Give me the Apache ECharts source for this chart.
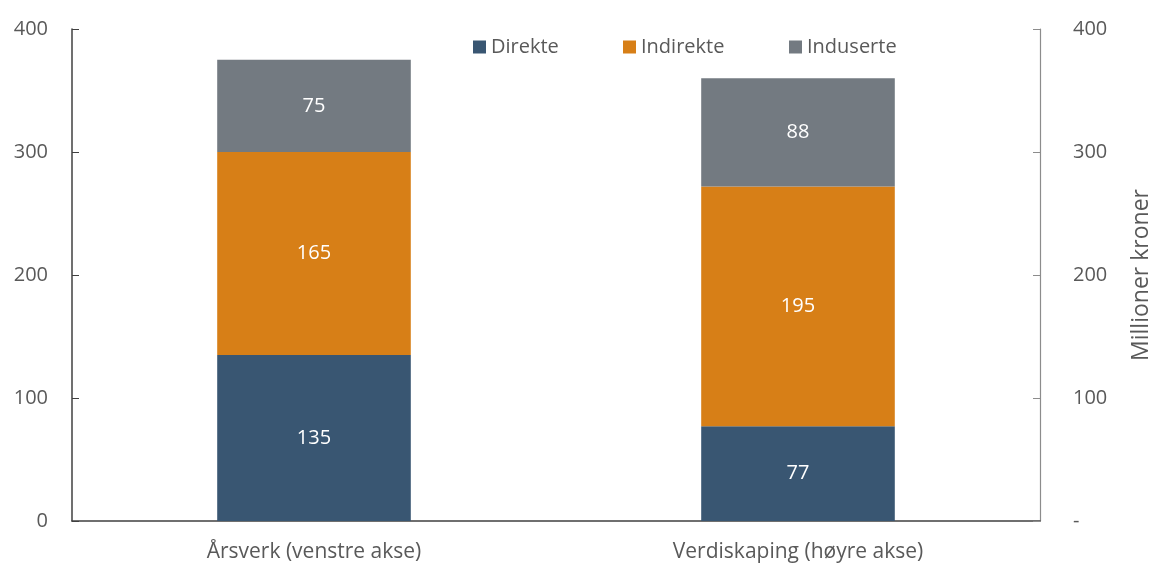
<!DOCTYPE html>
<html>
<head>
<meta charset="utf-8">
<script src="https://cdn.jsdelivr.net/npm/echarts@6/dist/echarts.min.js"></script>
<style>
  html, body { margin: 0; padding: 0; background: #fff; }
  #main { width: 1153px; height: 563px; }
</style>
</head>
<body>
<div id="main"></div>
<script>
var categories = ['Årsverk (venstre akse)', 'Verdiskaping (høyre akse)'];
var direkte = [135, 77];
var indirekte = [165, 195];
var induserte = [75, 88];

var FONT = '"Open Sans", sans-serif';
var TEXT = '#595959';

var chart = echarts.init(document.getElementById('main'));

function legendAt(name, left) {
    return {
        data: [name], left: left, top: 37, padding: 0,
        itemWidth: 13, itemHeight: 13, itemGap: 6,
        icon: 'rect',
        textStyle: { fontFamily: FONT, fontSize: 20, color: TEXT }
    };
}

var labelStyle = {
    show: true, position: 'inside', color: '#fff',
    fontFamily: FONT, fontSize: 20
};

var option = {
    animation: false,
    color: ['#395672', '#d77f17', '#737a81'],
    grid: { left: 72, right: 113, top: 29, bottom: 42, outerBoundsMode: 'none' },
    legend: [
        legendAt('Direkte', 473),
        legendAt('Indirekte', 623),
        legendAt('Induserte', 789)
    ],
    xAxis: {
        type: 'category',
        data: categories,
        axisLine: { lineStyle: { color: '#404040', width: 1.5 } },
        axisTick: { show: false },
        axisLabel: { fontFamily: FONT, fontSize: 21, color: TEXT, margin: 21 }
    },
    yAxis: [
        {
            type: 'value', min: 0, max: 400, interval: 100,
            position: 'left',
            splitLine: { show: false },
            axisLine: { show: true, lineStyle: { color: '#404040', width: 1.5 } },
            axisTick: { show: true, inside: true, length: 7, lineStyle: { color: '#404040' } },
            axisLabel: { fontFamily: FONT, fontSize: 20, color: TEXT, margin: 24 }
        },
        {
            type: 'value', min: 0, max: 400, interval: 100,
            position: 'right',
            name: 'Millioner kroner',
            nameLocation: 'middle',
            nameRotate: 90,
            nameGap: 90,
            nameTextStyle: { fontFamily: FONT, fontSize: 23, color: TEXT },
            splitLine: { show: false },
            axisLine: { show: true, lineStyle: { color: '#8c8c8c', width: 1.2 } },
            axisTick: { show: true, inside: true, length: 7, lineStyle: { color: '#8c8c8c' } },
            axisLabel: {
                fontFamily: FONT, fontSize: 20, color: TEXT, margin: 33,
                formatter: function (v) { return v === 0 ? '-' : String(v); }
            }
        }
    ],
    series: [
        { name: 'Direkte', type: 'bar', stack: 'a', barWidth: '40%', data: direkte, label: labelStyle },
        { name: 'Indirekte', type: 'bar', stack: 'a', barWidth: '40%', data: indirekte, label: labelStyle },
        { name: 'Induserte', type: 'bar', stack: 'a', barWidth: '40%', data: induserte, label: labelStyle }
    ]
};

chart.setOption(option);
</script>
</body>
</html>
